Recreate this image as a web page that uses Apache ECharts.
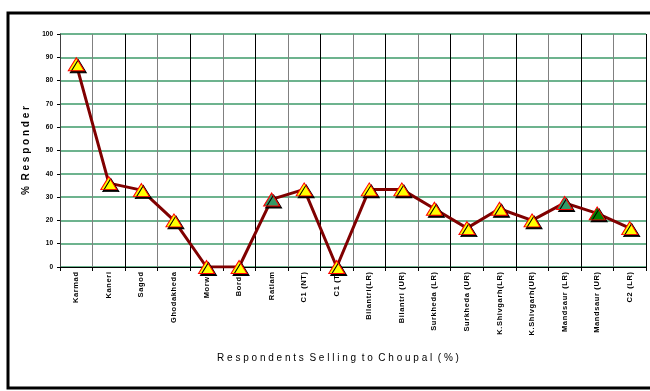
<!DOCTYPE html>
<html>
<head>
<meta charset="utf-8">
<script src="https://cdn.jsdelivr.net/npm/echarts@6/dist/echarts.min.js"></script>
<style>
  html, body { margin: 0; padding: 0; background: #fff; }
  #chart { width: 650px; height: 391px; }
</style>
</head>
<body>
<div id="chart"></div>
<script>
const villages = [
  'Karmad', 'Kaneri', 'Sagod', 'Ghodakheda', 'Morwa', 'Borda', 'Ratlam',
  'C1 (NT)', 'C1 (T)', 'Bilantri(LR)', 'Bilantri (UR)', 'Surkheda (LR)',
  'Surkheda (UR)', 'K.Shivgarh(LR)', 'K.Shivgarh(UR)', 'Mandsaur (LR)',
  'Mandsaur (UR)', 'C2 (LR)'
];
const responders = [87, 36, 33, 20, 0, 0, 29, 33.3, 0, 33.3, 33.3, 25, 16.7, 25, 20, 27.5, 23, 16.7];
// markers that are not yellow in the original
const markerFills = { 'Ratlam': '#339966', 'Mandsaur (LR)': '#339966', 'Mandsaur (UR)': '#008000' };

const FONT = 'Arial, "Liberation Sans", sans-serif';
// the original labels are letter-spaced
const spaced = s => s.split('').join('\u200A');

const chart = echarts.init(document.getElementById('chart'));

const points = responders.map((v, i) => ({
  value: v,
  itemStyle: { color: markerFills[villages[i]] || '#ffff00' }
}));

chart.setOption({
  animation: false,
  grid: { left: 60, right: 4, top: 34, bottom: 124 },
  graphic: [{
    type: 'rect',
    shape: { x: 8, y: 13, width: 660, height: 375 },
    style: { fill: 'none', stroke: '#000', lineWidth: 3 },
    silent: true
  }],
  xAxis: {
    type: 'category',
    data: villages,
    boundaryGap: true,
    axisLine: { lineStyle: { color: '#000', width: 1 } },
    axisTick: { show: true, length: 4, lineStyle: { color: '#000' } },
    axisLabel: {
      interval: 0,
      rotate: 90,
      fontFamily: FONT,
      fontSize: 7.5,
      fontWeight: 'bold',
      color: '#000',
      margin: 5,
      formatter: v => spaced(v)
    },
    splitLine: { show: true, interval: 0, lineStyle: { color: ['#000', '#808080'], width: 1 } },
    name: 'R e s p o n d e n t s  S e l l i n g  t o  C h o u p a l  ( % )',
    nameLocation: 'middle',
    nameGap: 86,
    nameTextStyle: { fontFamily: FONT, fontSize: 10, color: '#000', padding: [0, 30, 0, 0] }
  },
  yAxis: {
    type: 'value',
    min: 0,
    max: 100,
    interval: 10,
    axisLine: { show: true, lineStyle: { color: '#404040', width: 1 } },
    axisTick: { show: true, length: 3, lineStyle: { color: '#000' } },
    axisLabel: {
      fontFamily: FONT,
      fontSize: 6.5,
      fontWeight: 'bold',
      color: '#000',
      margin: 7
    },
    splitLine: { show: true, lineStyle: { color: '#3c9a68', width: 1.5 } },
    name: '%  R e s p o n d e r',
    nameLocation: 'middle',
    nameRotate: 90,
    nameGap: 27,
    nameTextStyle: { fontFamily: FONT, fontSize: 10, fontWeight: 'bold', color: '#000' }
  },
  series: [{
    type: 'line',
    data: points,
    symbol: 'triangle',
    symbolSize: [16, 13],
    lineStyle: { color: '#800000', width: 3 },
    itemStyle: {
      borderColor: '#ff0000',
      borderWidth: 1,
      shadowColor: '#000',
      shadowOffsetX: 2,
      shadowOffsetY: 2,
      shadowBlur: 0
    },
    z: 5
  }]
});
</script>
</body>
</html>
